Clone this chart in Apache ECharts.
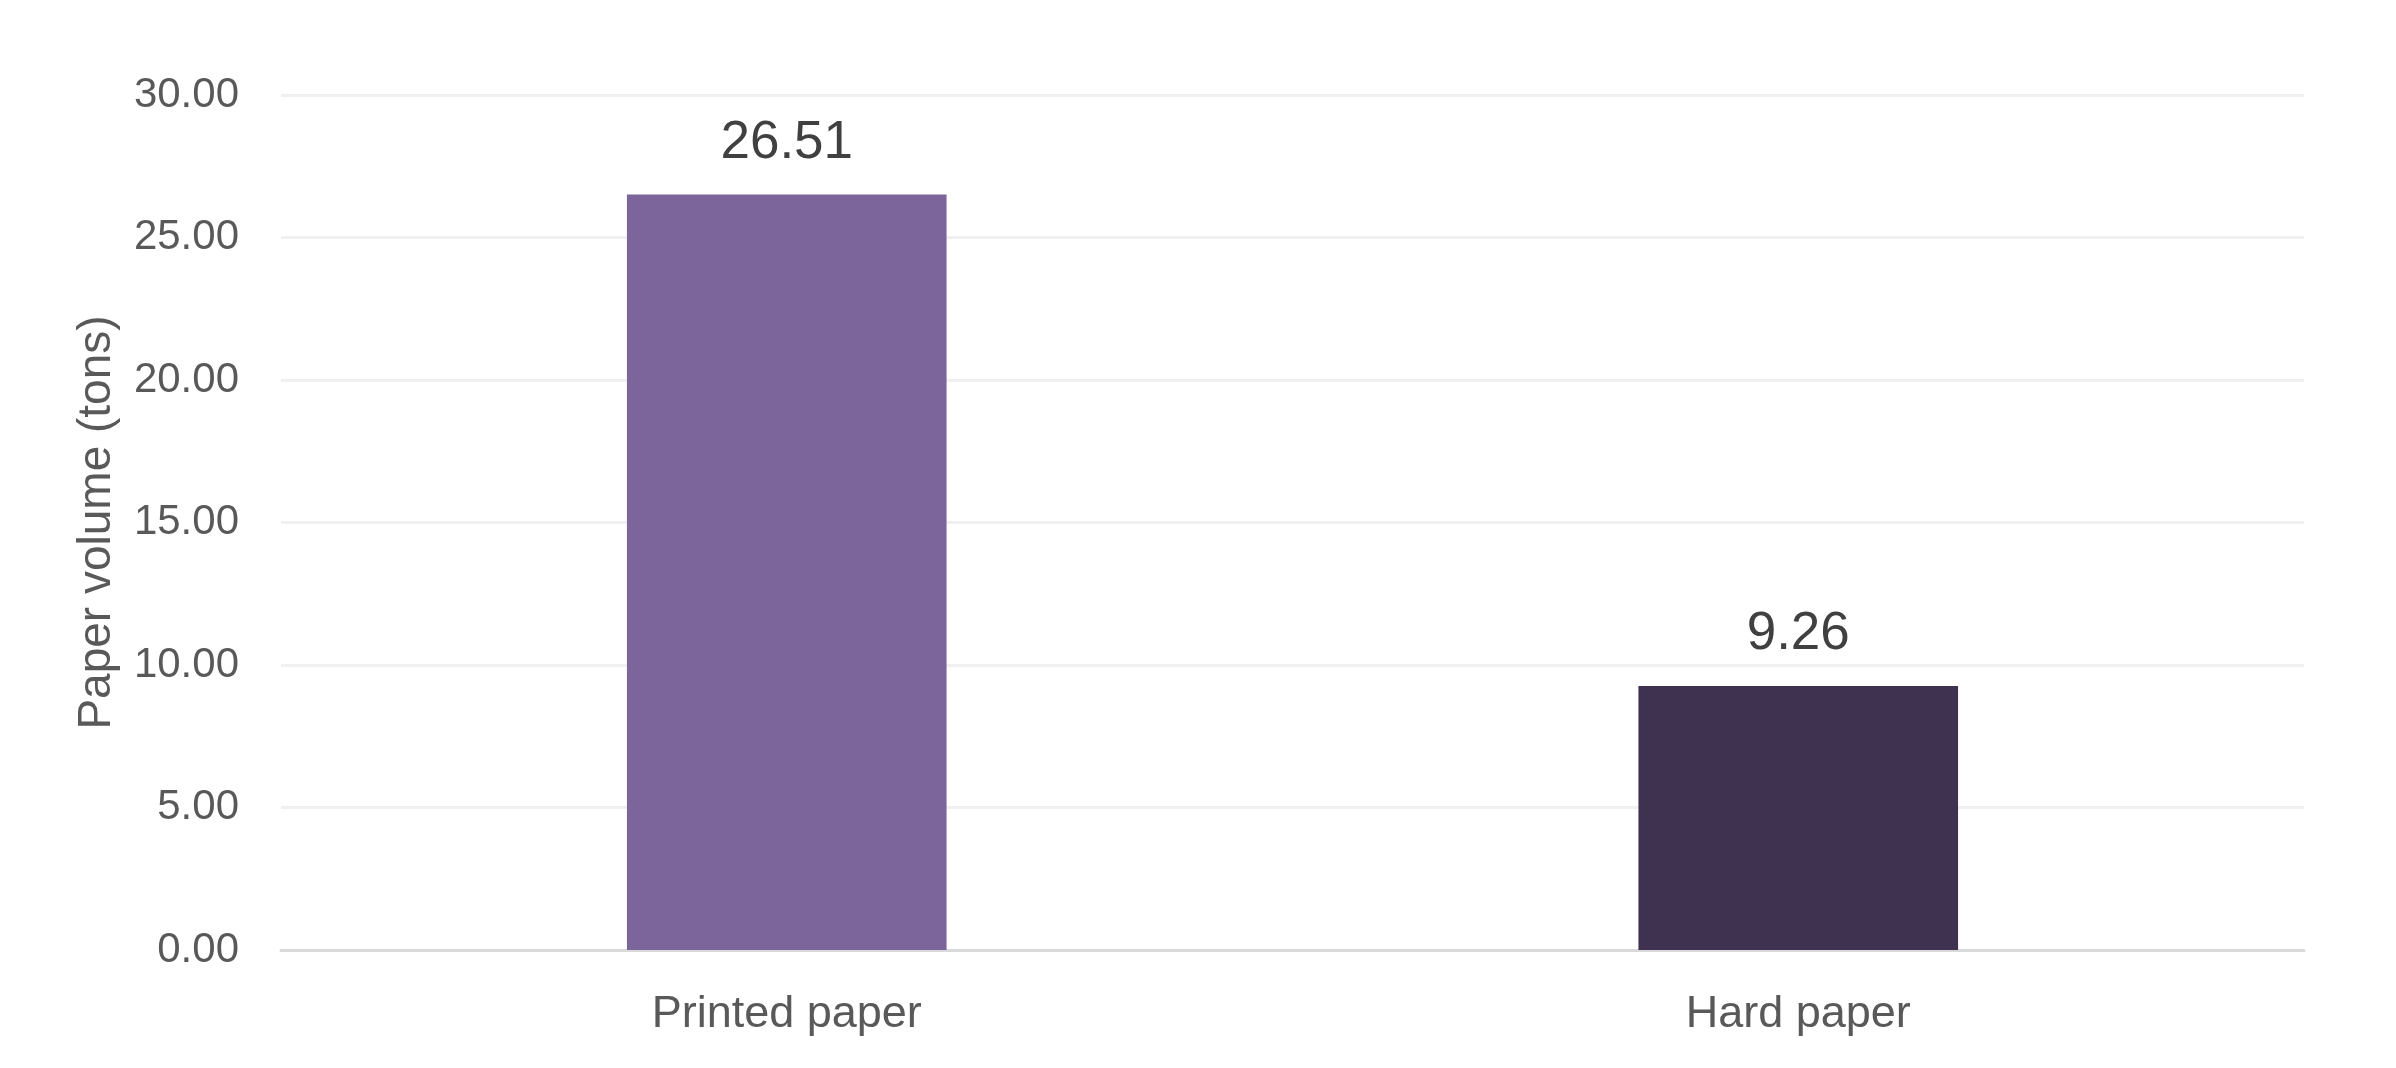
<!DOCTYPE html>
<html>
<head>
<meta charset="utf-8">
<title>Paper volume</title>
<script src="https://cdn.jsdelivr.net/npm/echarts@6/dist/echarts.min.js"></script>
<style>
  html, body { margin: 0; padding: 0; background: #fff; }
  #chart { width: 2396px; height: 1068px; }
</style>
</head>
<body>
<div id="chart"></div>
<script>
// data
var categories = ['Printed paper', 'Hard paper'];
var volumes = [26.51, 9.26];
var barColors = ['#7b659b', '#3f3250'];

var font = '"Liberation Sans", Arial, sans-serif';

var chart = echarts.init(document.getElementById('chart'));
chart.setOption({
    backgroundColor: '#ffffff',
    animation: false,
    grid: {
        left: 281,
        right: 92,
        top: 95,
        bottom: 118,
        containLabel: false
    },
    xAxis: {
        type: 'category',
        data: categories,
        axisTick: { show: false },
        axisLine: { lineStyle: { color: '#d9d9d9', width: 3 } },
        axisLabel: {
            margin: 42,
            color: '#595959',
            fontSize: 45,
            fontFamily: font
        }
    },
    yAxis: {
        type: 'value',
        min: 0,
        max: 30,
        interval: 5,
        name: 'Paper volume (tons)',
        nameLocation: 'middle',
        nameRotate: 90,
        nameGap: 161,
        nameTextStyle: {
            color: '#595959',
            fontSize: 46,
            fontFamily: font
        },
        axisLine: { show: false },
        axisTick: { show: false },
        splitLine: { lineStyle: { color: '#f0f0f0', width: 3 } },
        axisLabel: {
            margin: 42,
            color: '#595959',
            fontSize: 42,
            fontFamily: font,
            formatter: function (v) { return v.toFixed(2); }
        }
    },
    series: [{
        type: 'bar',
        barWidth: '31.6%',
        data: volumes.map(function (v, i) {
            return { value: v, itemStyle: { color: barColors[i] } };
        }),
        label: {
            show: true,
            position: 'top',
            distance: 25,
            color: '#404040',
            fontSize: 53,
            fontFamily: font,
            formatter: function (p) { return p.value.toFixed(2); }
        }
    }]
});
</script>
</body>
</html>
